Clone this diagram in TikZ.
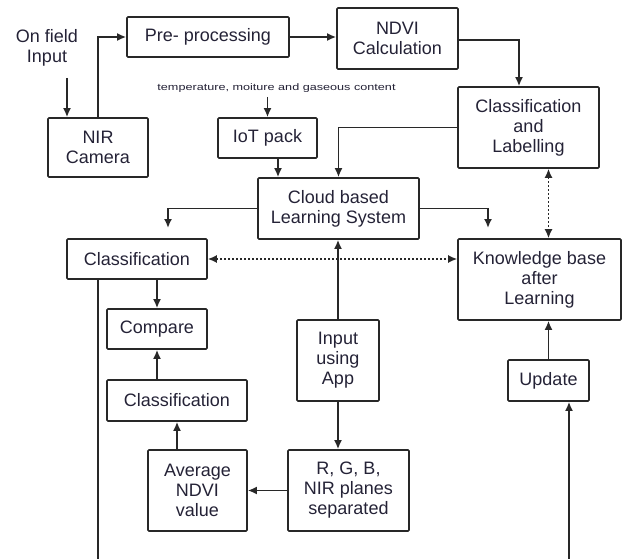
\documentclass[tikz,border=0pt]{standalone}
\usepackage{fontspec}
\setmainfont{Liberation Sans}
\usetikzlibrary{arrows.meta}
\definecolor{ln}{RGB}{40,40,40}
\definecolor{tx}{RGB}{36,34,54}
\begin{document}
\begin{tikzpicture}[x=1pt,y=-1pt,
  box/.style={draw=ln, line width=1.7pt, rounded corners=1pt, align=center, inner sep=0pt,
    text=tx, font=\fontsize{18}{20}\selectfont},
  lbl/.style={align=center, inner sep=0pt, text=tx, font=\fontsize{18}{20}\selectfont},
  arr/.style={draw=ln, line width=1.7pt, -{Latex[length=9pt,width=8pt]}},
  ln/.style={draw=ln, line width=1.7pt},
  dot/.style={draw=ln, line width=1.4pt, dash pattern=on 2pt off 2pt,
    {Latex[length=9pt,width=8pt]}-{Latex[length=9pt,width=8pt]}}]
\useasboundingbox (0,0) rectangle (624,559);

\node[box, minimum width=162pt, minimum height=40pt] (pre) at (208,37) {Pre- processing};
\node[box, minimum width=121pt, minimum height=61pt] (ndvi) at (397.5,38.5) {NDVI\\Calculation};
\node[box, minimum width=141pt, minimum height=81pt] (cl) at (528.5,127.5) {Classification\\and\\Labelling};
\node[box, minimum width=100pt, minimum height=59pt] (nir) at (98,147.5) {NIR\\Camera};
\node[box, minimum width=99pt, minimum height=40pt] (iot) at (267.5,138) {IoT pack};
\node[box, minimum width=161pt, minimum height=61pt] (cloud) at (338.5,208.5) {Cloud based\\Learning System};
\node[box, minimum width=140pt, minimum height=40pt] (classA) at (137,259) {Classification};
\node[box, minimum width=100pt, minimum height=40pt] (cmp) at (157,329) {Compare};
\node[box, minimum width=163pt, minimum height=81pt] (kb) at (539.5,279.5) {Knowledge base\\after\\Learning};
\node[box, minimum width=82pt, minimum height=81pt] (app) at (338,360.5) {Input\\using\\App};
\node[box, minimum width=81pt, minimum height=41pt] (upd) at (548.5,380.5) {Update};
\node[box, minimum width=140pt, minimum height=41pt] (classB) at (177,400.5) {Classification};
\node[box, minimum width=99pt, minimum height=81pt] (avg) at (197.5,490.5) {Average\\NDVI\\value};
\node[box, minimum width=121pt, minimum height=81pt] (rgb) at (348.5,490.5) {R, G, B,\\NIR planes\\separated};

\node[lbl] (onfield) at (47,48) {On field\\Input};
\node[lbl, font=\fontsize{9.5}{11}\selectfont] (temp) at (276.5,88)
  {\scalebox{1.33}[1]{temperature, moiture and gaseous content}};

\coordinate (of) at (67,78);
\coordinate (tp) at (267.5,97);
\coordinate (cA) at (168,228);
\coordinate (cB) at (488,228);
\coordinate (bl) at (98,559);
\coordinate (br) at (569,559);

\draw[arr] (of) -- (of |- nir.north);
\draw[arr] (nir.north) |- (pre.west);
\draw[arr] (pre.east) -- (ndvi.west |- pre.east);
\draw[arr] ([yshift=-1.5pt]ndvi.east) -| ([xshift=-9.5pt]cl.north);
\draw[arr] (tp) -- (iot.north);
\draw[arr] ([xshift=10.5pt]iot.south) -- ([xshift=10.5pt]iot.south |- cloud.north);
\draw[arr] (cl.west) -| (cloud.north);
\draw[arr] (cloud.west) -| (cA);
\draw[arr] (cloud.east) -| (cB);
\draw[dot] ([xshift=20pt]cl.south) -- ([xshift=20pt]cl.south |- kb.north);
\draw[dot] (classA.east) -- (kb.west |- classA.east);
\draw[arr] (cmp.north |- classA.south) -- (cmp.north);
\draw[ln] (classA.south -| bl) -- (bl);
\draw[arr] (classB.north -| cmp.south) -- (cmp.south);
\draw[arr] (avg.north -| classB.south) -- (classB.south);
\draw[arr] (rgb.west |- avg.east) -- (avg.east);
\draw[arr] (app.south) -- (app.south |- rgb.north);
\draw[arr] (app.north) -- (app.north |- cloud.south);
\draw[arr] (upd.north) -- (upd.north |- kb.south);
\draw[arr] (br) -- (br |- upd.south);
\end{tikzpicture}
\end{document}
